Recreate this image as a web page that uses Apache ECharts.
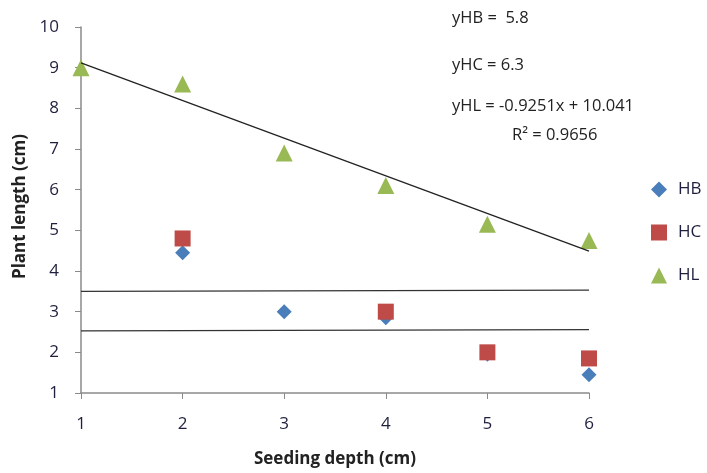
<!DOCTYPE html>
<html>
<head>
<meta charset="utf-8">
<script src="https://cdn.jsdelivr.net/npm/echarts@6/dist/echarts.min.js"></script>
<style>
html,body{margin:0;padding:0;background:#fff;}
#chart{width:707px;height:473px;}
</style>
</head>
<body>
<div id="chart"></div>
<script>
// seeding depth (cm)
var depthHB = [2, 3, 4, 5, 6];
var valHB = [4.45, 3.0, 2.85, 1.95, 1.45];
var depthHC = [2, 4, 5, 6];
var valHC = [4.8, 3.0, 2.0, 1.85];
var depthHL = [1, 2, 3, 4, 5, 6];
var valHL = [9.0, 8.6, 6.9, 6.1, 5.15, 4.75];
// trend line end points (HL) and two flat lines
var trendX = [1, 6];
var trendY = [9.116, 4.49];
var flatY1 = [3.5, 3.53];
var flatY2 = [2.53, 2.56];
var eqTexts = ['yHB =  5.8', 'yHC = 6.3', 'yHL = -0.9251x + 10.041', 'R\u00B2 = 0.9656'];

function pairs(xs, ys){
	var out = [];
	for(var i=0;i<xs.length;i++){ out.push([xs[i], ys[i]]); }
	return out;
}

var font = 'Open Sans, Liberation Sans, sans-serif';
var txtColor = '#1f1f3f';
var myChart = echarts.init(document.getElementById('chart'));
var option = {
	backgroundColor: '#fff',
	animation: false,
	grid: {left: 81, right: 118, top: 27, bottom: 77},
	xAxis: {
		type: 'value', min: 1, max: 6, interval: 1,
		name: 'Seeding depth (cm)', nameLocation: 'middle', nameGap: 58,
		nameTextStyle: {fontFamily: font, fontWeight: 'bold', fontSize: 17, color: '#222'},
		axisLine: {lineStyle: {color: '#8a8a8a', width: 1.5}},
		axisTick: {show: true, length: 6, lineStyle: {color: '#8a8a8a'}},
		axisLabel: {fontFamily: font, fontSize: 17, color: txtColor, margin: 23},
		splitLine: {show: false}
	},
	yAxis: {
		type: 'value', min: 1, max: 10, interval: 1,
		name: 'Plant length (cm)', nameLocation: 'middle', nameGap: 47, nameRotate: 90,
		nameTextStyle: {fontFamily: font, fontWeight: 'bold', fontSize: 17, color: '#222', padding: [0, 0, 0, 7]},
		axisLine: {show: true, lineStyle: {color: '#8a8a8a', width: 1.5}},
		axisTick: {show: true, length: 6, lineStyle: {color: '#8a8a8a'}},
		axisLabel: {fontFamily: font, fontSize: 17, color: txtColor, margin: 22},
		splitLine: {show: false}
	},
	legend: {
		orient: 'vertical', left: 646, top: 176, itemGap: 26,
		itemWidth: 16, itemHeight: 16,
		textStyle: {fontFamily: font, fontSize: 17, color: txtColor, padding: [0, 0, 0, 6]},
		data: [
			{name: 'HB', icon: 'diamond'},
			{name: 'HC', icon: 'rect'},
			{name: 'HL', icon: 'triangle'}
		]
	},
	graphic: [
		{type: 'text', left: 452, top: 10, style: {text: eqTexts[0], font: '16.5px ' + font, fill: '#222'}},
		{type: 'text', left: 452, top: 57, style: {text: eqTexts[1], font: '16.5px ' + font, fill: '#222'}},
		{type: 'text', left: 452, top: 98, style: {text: eqTexts[2], font: '16.5px ' + font, fill: '#222'}},
		{type: 'text', left: 512, top: 127, style: {text: eqTexts[3], font: '16.5px ' + font, fill: '#222'}}
	],
	series: [
		{name: 'trend', type: 'line', data: pairs(trendX, trendY), symbol: 'none', z: 3,
			lineStyle: {color: '#222', width: 1.3}, silent: true},
		{name: 'flat1', type: 'line', data: pairs(trendX, flatY1), symbol: 'none', z: 1,
			lineStyle: {color: '#333', width: 1.3}, silent: true},
		{name: 'flat2', type: 'line', data: pairs(trendX, flatY2), symbol: 'none', z: 1,
			lineStyle: {color: '#333', width: 1.3}, silent: true},
		{name: 'HB', type: 'scatter', data: pairs(depthHB, valHB), symbol: 'diamond', symbolSize: 15, z: 4,
			itemStyle: {color: '#4a7ebb', opacity: 1}},
		{name: 'HC', type: 'scatter', data: pairs(depthHC, valHC), symbol: 'rect', symbolSize: 16, z: 5,
			itemStyle: {color: '#be4b48', opacity: 1}},
		{name: 'HL', type: 'scatter', data: pairs(depthHL, valHL), symbol: 'triangle', symbolSize: 17, z: 2,
			itemStyle: {color: '#98b954', opacity: 1}}
	]
};
myChart.setOption(option);
</script>
</body>
</html>
